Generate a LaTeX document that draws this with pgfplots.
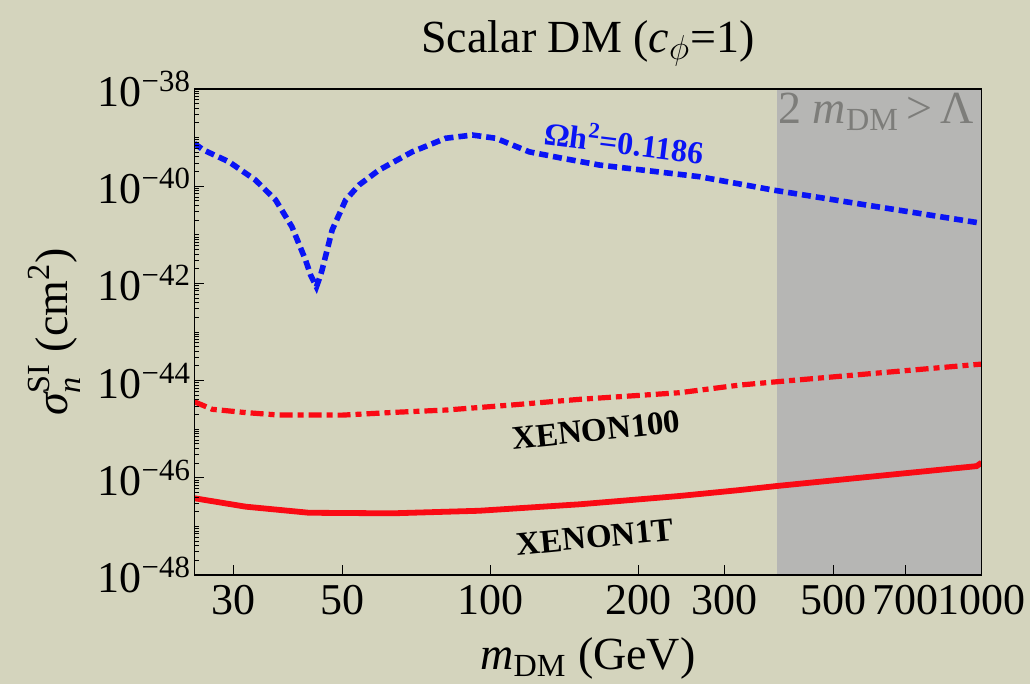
\documentclass[border=0pt]{standalone}
\usepackage{fontspec}
\setmainfont{Liberation Serif}
\usepackage{amsmath}
\usepackage{pgfplots}
\pgfplotsset{compat=1.18}
\definecolor{bgcol}{RGB}{212,212,189}
\definecolor{shadecol}{RGB}{182,182,180}
\definecolor{myblue}{RGB}{10,20,245}
\definecolor{myred}{RGB}{250,10,20}
\definecolor{lblgray}{RGB}{125,125,122}

\def\myminor{1e-39}
\foreach \e in {-48,...,-39}{\foreach \m in {2,...,9}{\xdef\myminor{\myminor,\m e\e}}}
\foreach \e in {-47,-45,-43,-41}{\xdef\myminor{\myminor,1e\e}}
\edef\setminor{\noexpand\pgfplotsset{myminor/.style={minor ytick={\myminor}}}}
\setminor

\begin{document}
\begin{tikzpicture}
\fill[bgcol] (0,0) rectangle (515pt,342pt);
\useasboundingbox (0,0) rectangle (515pt,342pt);
\begin{axis}[
  at={(97.15pt,54.5pt)}, anchor=south west,
  scale only axis, width=393.65pt, height=243pt,
  xmode=log, ymode=log,
  xmin=25, xmax=1000, ymin=1e-48, ymax=1e-38,
  axis on top,
  xtick={30,50,100,200,300,500,700,1000},
  xticklabels={30,50,100,200,300,500,700,1000},
  ytick={1e-48,1e-46,1e-44,1e-42,1e-40,1e-38},
  yticklabels={10\textsuperscript{−48},10\textsuperscript{−46},10\textsuperscript{−44},10\textsuperscript{−42},10\textsuperscript{−40},10\textsuperscript{−38}},
  myminor,
  tick pos=left,
  tick align=inside,
  major tick length=5pt, minor tick length=2.5pt,
  every tick/.style={black, line width=0.5pt},
  axis line style={line width=0.6pt},
  ticklabel style={font=\fontsize{22}{26}\selectfont},
  yticklabel style={inner sep=1.5pt},
  xticklabel style={inner sep=5pt},
  title={Scalar DM (\textit{c}\textsubscript{$\phi$}=1)},
  title style={font=\fontsize{23}{27}\selectfont, at={(0.5,1)}, anchor=base, yshift=12.5pt},
  xlabel={\textit{m}\textsubscript{DM} (GeV)},
  xlabel style={font=\fontsize{23}{27}\selectfont, at={(0.5,0)}, anchor=base, yshift=-47pt},
  ylabel={$\textit{σ}^{\text{SI}}_{\textit{n}}$ (cm\textsuperscript{2})},
  ylabel style={font=\fontsize{23}{27}\selectfont, at={(0,0.5)}, anchor=center, yshift=70pt},
  clip=true,
]
\fill[shadecol] (axis cs:384,1e-48) rectangle (axis cs:1000,1e-38);

% Relic density curve
\addplot[myblue, line width=2.8pt, dash pattern=on 4.5pt off 2.5pt] coordinates {
(25,7.6e-40) (26.1,5.56e-40) (29.4,3.19e-40) (33.3,1.34e-40) (36.6,5.2e-41)
(39.5,1.47e-41) (42.1,3.03e-42) (43.1,1.5e-42) (44.3,8.5e-43) (45.2,1.5e-42) (45.5,1.9e-42)
(47.7,1.26e-41) (50.8,5.2e-41) (54.1,1.06e-40) (59.4,2.15e-40) (69.4,5.1e-40)
(81.2,9.7e-40) (92.0,1.13e-39) (102.7,9.7e-40) (120.1,5.1e-40) (140.4,3.75e-40)
(166.8,2.73e-40) (266.7,1.57e-40) (376,8.36e-41) (583,4.1e-41) (1000,1.73e-41)
};

% XENON100
\addplot[myred, line width=2.6pt, dash pattern=on 6.5pt off 2.5pt on 3pt off 2.5pt] coordinates {
(25,3.68e-45) (27.2,2.57e-45) (31.8,2.2e-45) (37.1,1.96e-45) (43.5,1.96e-45)
(50,1.95e-45) (64.2,2.23e-45) (81.2,2.48e-45) (111,3.16e-45) (151.9,4.12e-45)
(242.8,5.64e-45) (321.8,8.1e-45) (384,9.5e-45) (1000,2.19e-44)
};

% XENON1T
\addplot[myred, line width=2.9pt] coordinates {
(25,3.8e-47) (31.8,2.55e-47) (42.8,1.91e-47) (63.2,1.86e-47) (95,2.1e-47)
(151.9,2.85e-47) (242.8,4.23e-47) (321.8,5.6e-47) (384,6.8e-47) (977,1.74e-46) (1000,2.05e-46)
};

\node[myblue, font=\fontsize{16}{18}\selectfont\bfseries, rotate=-7] at (axis cs:187.6,8.5e-40) {Ωh\textsuperscript{2}=0.1186};
\node[black, font=\fontsize{16.5}{18}\selectfont\bfseries, rotate=6] at (axis cs:164.4,9.6e-46) {XENON100};
\node[black, font=\fontsize{16.5}{18}\selectfont\bfseries, rotate=5.5] at (axis cs:163.7,6.05e-48) {XENON1T};
\node[lblgray, font=\fontsize{23}{27}\selectfont] at (axis cs:610,3.4e-39) {2 \textit{m}\textsubscript{DM}\,>\,Λ};
\end{axis}
\end{tikzpicture}
\end{document}
